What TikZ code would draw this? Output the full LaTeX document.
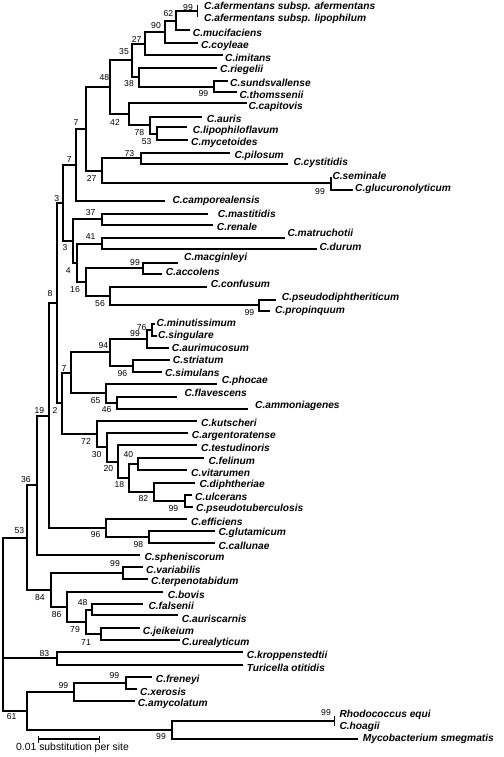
\documentclass[tikz,border=0pt]{standalone}
\usepackage{fontspec}
\setmainfont{Liberation Sans}
\begin{document}
\begin{tikzpicture}[x=1pt,y=-1pt,
  br/.style={line width=2pt,line join=miter},
  thinbar/.style={line width=1pt},
  sp/.style={anchor=west,inner sep=0pt,font=\fontsize{10.2}{12}\selectfont\bfseries\itshape},
  bs/.style={anchor=center,inner sep=0pt,font=\fontsize{8.6}{10}\selectfont},
  sc/.style={anchor=center,inner sep=0pt,font=\fontsize{10.4}{12}\selectfont}]
\useasboundingbox[fill=white] (0,0) rectangle (503,757);
\newcommand\mkleaf[6]{\coordinate (#1) at (#2,#3);\node[sp] (L#1) at (#4,#5) {#6};}
% leaves
\mkleaf{afa}{197.5}{5}{204}{6.7}{C.afermentans subsp. afermentans}
\mkleaf{afl}{197.5}{17}{204}{19.3}{C.afermentans subsp. lipophilum}
\mkleaf{muc}{190}{30}{192.7}{33.3}{C.mucifaciens}
\mkleaf{coy}{198}{43}{201}{45.7}{C.coyleae}
\mkleaf{imi}{223}{55}{225}{57.7}{C.imitans}
\mkleaf{rie}{217}{68}{220}{70}{C.riegelii}
\mkleaf{sun}{228}{81}{230}{82.7}{C.sundsvallense}
\mkleaf{tho}{237}{92}{239.3}{94.7}{C.thomssenii}
\mkleaf{cap}{247}{103}{248.3}{107.3}{C.capitovis}
\mkleaf{aur}{202}{117}{206.7}{119}{C.auris}
\mkleaf{lip}{187}{127}{192.7}{131}{C.lipophiloflavum}
\mkleaf{myc}{188}{140}{191}{143.3}{C.mycetoides}
\mkleaf{pil}{230}{153}{234.3}{155.7}{C.pilosum}
\mkleaf{cys}{288}{164}{293.3}{163.3}{C.cystitidis}
\mkleaf{sem}{331}{177}{332.3}{176}{C.seminale}
\mkleaf{glu}{353}{190}{355}{189.3}{C.glucuronolyticum}
\mkleaf{cam}{165}{201}{172.3}{201}{C.camporealensis}
\mkleaf{mas}{208}{214}{217.7}{214}{C.mastitidis}
\mkleaf{ren}{213}{225}{216.7}{227.3}{C.renale}
\mkleaf{mat}{285}{238}{287.3}{233.3}{C.matruchotii}
\mkleaf{dur}{317}{249}{319.3}{246.7}{C.durum}
\mkleaf{mac}{178}{263}{184}{258.3}{C.macginleyi}
\mkleaf{acc}{162}{274}{165.7}{271.7}{C.accolens}
\mkleaf{con}{207}{287}{210.7}{284.3}{C.confusum}
\mkleaf{psd}{276}{300}{281.7}{297.7}{C.pseudodiphtheriticum}
\mkleaf{pro}{270}{311}{275}{310.7}{C.propinquum}
\mkleaf{min}{155}{324}{156.5}{322.7}{C.minutissimum}
\mkleaf{sin}{157}{336}{158}{335.7}{C.singulare}
\mkleaf{aum}{169}{348}{171.7}{347.7}{C.aurimucosum}
\mkleaf{str}{170}{360}{172.7}{360}{C.striatum}
\mkleaf{sim}{162}{372}{165}{373.3}{C.simulans}
\mkleaf{pho}{217}{384}{221.7}{380.7}{C.phocae}
\mkleaf{fla}{177}{397}{184.3}{393.3}{C.flavescens}
\mkleaf{amm}{248}{409}{255}{406}{C.ammoniagenes}
\mkleaf{kut}{197}{421}{201}{423.3}{C.kutscheri}
\mkleaf{arg}{188}{433}{191.7}{436}{C.argentoratense}
\mkleaf{tes}{197}{445}{201}{448.3}{C.testudinoris}
\mkleaf{fel}{204}{458}{208.3}{460.7}{C.felinum}
\mkleaf{vit}{187}{470}{191}{472.7}{C.vitarumen}
\mkleaf{dip}{195}{483}{199.3}{485}{C.diphtheriae}
\mkleaf{ulc}{192}{495}{195}{497.3}{C.ulcerans}
\mkleaf{pst}{193}{507}{196}{509.3}{C.pseudotuberculosis}
\mkleaf{eff}{187}{519}{191}{521.7}{C.efficiens}
\mkleaf{glt}{215}{531}{218.3}{533.3}{C.glutamicum}
\mkleaf{cal}{215}{543}{218.3}{545.7}{C.callunae}
\mkleaf{sph}{140}{555}{144.3}{558.3}{C.spheniscorum}
\mkleaf{var}{143}{567}{146}{570}{C.variabilis}
\mkleaf{ter}{148}{579}{151}{582}{C.terpenotabidum}
\mkleaf{bov}{163}{592}{167.7}{595}{C.bovis}
\mkleaf{fal}{143}{604}{148.3}{606}{C.falsenii}
\mkleaf{asc}{178}{615}{181.7}{619}{C.auriscarnis}
\mkleaf{jei}{140}{628}{142.7}{631.7}{C.jeikeium}
\mkleaf{ure}{180}{640}{181.7}{643.3}{C.urealyticum}
\mkleaf{kro}{243}{652}{246.7}{656}{C.kroppenstedtii}
\mkleaf{tur}{243}{665}{246.7}{668.3}{Turicella otitidis}
\mkleaf{fre}{152}{677}{155.7}{680}{C.freneyi}
\mkleaf{xer}{137}{689}{140}{691.7}{C.xerosis}
\mkleaf{amy}{135}{701}{137.7}{704}{C.amycolatum}
\mkleaf{rho}{334.5}{716}{339.3}{715}{Rhodococcus equi}
\mkleaf{hoa}{334.5}{726}{339.3}{726.7}{C.hoagii}
\mkleaf{mys}{358}{739}{362.7}{739}{Mycobacterium smegmatis}
% internal nodes
\coordinate (n99a) at (197.5,11);
\coordinate (n62) at (176,21);
\coordinate (n90) at (165,32);
\coordinate (n27b) at (145,44);
\coordinate (n99b) at (214,87);
\coordinate (n38) at (139,77);
\coordinate (n35) at (132,60);
\coordinate (n53) at (157,134);
\coordinate (n78) at (150,125);
\coordinate (n42) at (129,114);
\coordinate (n48) at (110,87);
\coordinate (n73) at (141,158);
\coordinate (n99c) at (331,183);
\coordinate (n27a) at (102,171);
\coordinate (n7a) at (86,129);
\coordinate (n7b) at (76,165);
\coordinate (n37) at (102,219);
\coordinate (n41) at (102,244);
\coordinate (n99d) at (143,268);
\coordinate (n99e) at (259,305);
\coordinate (n56) at (110,296);
\coordinate (n16) at (86,282);
\coordinate (n4) at (77,263);
\coordinate (n3b) at (73,241);
\coordinate (n3a) at (63,203);
\coordinate (n76) at (152,330);
\coordinate (n99f) at (147,339);
\coordinate (n96a) at (133,366);
\coordinate (n94) at (110,352);
\coordinate (n46) at (117,403);
\coordinate (n65) at (106,393);
\coordinate (n7c) at (71,373);
\coordinate (n40) at (138,464);
\coordinate (n99g) at (185,501);
\coordinate (n82) at (154,492);
\coordinate (n18) at (129,478);
\coordinate (n20) at (118,462);
\coordinate (n30) at (107,447);
\coordinate (n72) at (97,434);
\coordinate (n2) at (62,403);
\coordinate (n3u) at (57,303);
\coordinate (n98) at (149,537);
\coordinate (n96b) at (106,528);
\coordinate (n8) at (49,416);
\coordinate (n19) at (37,485);
\coordinate (n99h) at (123,573);
\coordinate (n48b) at (92,610);
\coordinate (n71) at (101,634);
\coordinate (n79) at (86,622);
\coordinate (n86) at (67,607);
\coordinate (n84) at (51,590);
\coordinate (n36) at (27,538);
\coordinate (n83) at (57,658);
\coordinate (n99i) at (126,683);
\coordinate (n99j) at (74,692);
\coordinate (n99k) at (334.5,721);
\coordinate (n99l) at (172,730);
\coordinate (n61) at (27,711);
\coordinate (root) at (3,624);
% branches
\draw[thinbar] (n99a) |- (afa) (n99a) |- (afl);
\draw[thinbar] (n99k) |- (rho) (n99k) |- (hoa);
\foreach \p/\c in {n62/n99a,n62/muc,n90/n62,n90/coy,n27b/n90,n27b/imi,
  n99b/sun,n99b/tho,n38/rie,n38/n99b,n35/n27b,n35/n38,n53/lip,n53/myc,
  n78/aur,n78/n53,n42/cap,n42/n78,n48/n35,n48/n42,n73/pil,n73/cys,
  n99c/sem,n99c/glu,n27a/n73,n27a/n99c,n7a/n48,n7a/n27a,n7b/n7a,n7b/cam,
  n37/mas,n37/ren,n41/mat,n41/dur,n99d/mac,n99d/acc,n99e/psd,n99e/pro,
  n56/con,n56/n99e,n16/n99d,n16/n56,n4/n41,n4/n16,n3b/n37,n3b/n4,
  n3a/n7b,n3a/n3b,n76/min,n76/sin,n99f/n76,n99f/aum,n96a/str,n96a/sim,
  n94/n99f,n94/n96a,n46/fla,n46/amm,n65/pho,n65/n46,n7c/n94,n7c/n65,
  n40/fel,n40/vit,n99g/ulc,n99g/pst,n82/dip,n82/n99g,n18/n40,n18/n82,
  n20/tes,n20/n18,n30/arg,n30/n20,n72/kut,n72/n30,n2/n7c,n2/n72,
  n3u/n3a,n3u/n2,n98/glt,n98/cal,n96b/eff,n96b/n98,n8/n3u,n8/n96b,
  n19/n8,n19/sph,n99h/var,n99h/ter,n48b/fal,n48b/asc,n71/jei,n71/ure,
  n79/n48b,n79/n71,n86/bov,n86/n79,n84/n99h,n84/n86,n36/n19,n36/n84,
  n83/kro,n83/tur,n99i/fre,n99i/xer,n99j/n99i,n99j/amy,n99l/n99k,n99l/mys,
  n61/n99j,n61/n99l,root/n36,root/n83,root/n61}
  {\draw[br] (\p) |- (\c);}
% bootstrap values
\foreach \i/\x/\y/\t in {1/188/7.3/99,2/168.3/13.3/62,3/156/26/90,4/136.7/39/27,
  5/124/51.7/35,6/129/84/38,7/203.3/93.3/99,8/104.3/77.3/48,9/115/122.7/42,
  10/76/122.7/7,11/139.3/132.7/78,12/146.7/141.7/53,13/129.3/154/73,
  14/91.7/178.3/27,15/320/191.7/99,16/69.3/160/7,17/56.7/199/3,18/90.7/212.3/37,
  19/90.7/236.7/41,20/65/247.5/3,21/68.3/270.7/4,22/135/262.7/99,23/75/289.3/16,
  24/100/303.3/56,25/249.3/312.7/99,26/50/294/8,27/141.7/327.3/76,28/135/334/99,
  29/103.3/346/94,30/122.3/374/96,31/64/369/7,32/95.7/401/65,33/106.7/410/46,
  34/55/410.7/2,35/39.3/410.7/19,36/86/441/72,37/96.7/455/30,38/128.3/455/40,
  39/108.3/468.3/20,40/119.3/485/18,41/143.3/499/82,42/173.3/508.3/99,
  43/26/479.3/36,44/95.7/535/96,45/138.3/544.3/98,46/19.3/530.7/53,
  47/115/564/99,48/40/597.3/84,49/82.7/602.7/48,50/56.7/615/86,51/75/629.3/79,
  52/86/642.3/71,53/44.3/653.3/83,54/114.3/676/99,55/63.3/686/99,
  56/11.7/716.7/61,57/326/712.7/99,58/161/736.7/99}
  {\node[bs] (b\i) at (\x,\y) {\t};}
% scale bar
\coordinate (sbL) at (38.5,739);
\coordinate (sbR) at (99.5,739);
\draw[line width=2pt] (sbL) -- (sbR);
\draw[line width=1pt] ([yshift=-3.5pt]sbL) -- ([yshift=3.5pt]sbL);
\draw[line width=1pt] ([yshift=-3.5pt]sbR) -- ([yshift=3.5pt]sbR);
\node[sc] (sclab) at (72.5,747.5) {0.01 substitution per site};
\end{tikzpicture}
\end{document}
